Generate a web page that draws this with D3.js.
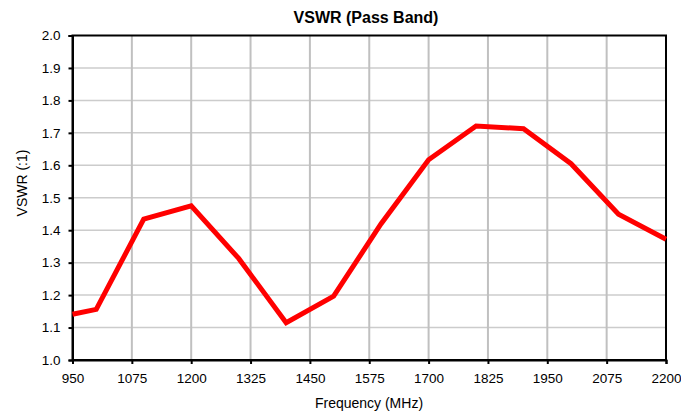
<!DOCTYPE html>
<html><head><meta charset="utf-8">
<script src="https://cdn.jsdelivr.net/npm/d3@7"></script>
<style>body{margin:0;background:#fff;font-family:"Liberation Sans",Arial,sans-serif;}</style>
</head><body><svg id="c" width="681" height="415"></svg>
<script>
const freqs = [950,1000,1100,1200,1300,1400,1500,1600,1700,1800,1900,2000,2100,2200];
const vswr = [1.141,1.156,1.434,1.475,1.313,1.115,1.197,1.42,1.617,1.721,1.713,1.605,1.449,1.372];
const xTicks = [950,1075,1200,1325,1450,1575,1700,1825,1950,2075,2200];
const yTicks = [1.0,1.1,1.2,1.3,1.4,1.5,1.6,1.7,1.8,1.9,2.0];

const svg = d3.select("#c");
const L=72.5, R=666, T=35.5, B=360;
const x = d3.scaleLinear().domain([950,2200]).range([L,R]);
const y = d3.scaleLinear().domain([1.0,2.0]).range([B,T]);

// grid
svg.append("g").selectAll("line").data(yTicks.slice(1,-1)).join("line")
  .attr("x1",L).attr("x2",R).attr("y1",d=>y(d)).attr("y2",d=>y(d))
  .attr("stroke","#cccccc").attr("stroke-width",1.5);
svg.append("g").selectAll("line").data(xTicks.slice(1,-1)).join("line")
  .attr("y1",T).attr("y2",B).attr("x1",d=>x(d)).attr("x2",d=>x(d))
  .attr("stroke","#c0c0c0").attr("stroke-width",2);

// frame
svg.append("rect").attr("x",L).attr("y",T).attr("width",R-L).attr("height",B-T)
  .attr("fill","none").attr("stroke","#000").attr("stroke-width",2);

// axes
const xa = svg.append("g").attr("transform",`translate(0,${B})`)
  .call(d3.axisBottom(x).tickValues(xTicks).tickSize(4).tickPadding(9).tickFormat(d3.format("d")));
const ya = svg.append("g").attr("transform",`translate(${L},0)`)
  .call(d3.axisLeft(y).tickValues(yTicks).tickSize(4).tickPadding(8).tickFormat(d3.format(".1f")));
[xa,ya].forEach(a=>{
  a.select(".domain").attr("stroke","#000").attr("stroke-width",2);
  a.selectAll(".tick line").attr("stroke","#000").attr("stroke-width",2);
  a.selectAll("text").attr("font-family","Liberation Sans, Arial, sans-serif").attr("font-size",13.5).attr("fill","#000");
});

// line
svg.append("path").datum(freqs.map((f,i)=>[f,vswr[i]]))
  .attr("d",d3.line().x(d=>x(d[0])).y(d=>y(d[1])))
  .attr("fill","none").attr("stroke","#ff0000").attr("stroke-width",5).attr("stroke-linejoin","miter");

// texts
svg.append("text").attr("x",366).attr("y",23).attr("text-anchor","middle")
  .attr("font-size",16).attr("font-weight","bold").text("VSWR (Pass Band)");
svg.append("text").attr("x",369).attr("y",408).attr("text-anchor","middle")
  .attr("font-size",14).text("Frequency (MHz)");
svg.append("text").attr("transform",`translate(27,183) rotate(-90)`).attr("text-anchor","middle")
  .attr("font-size",14).text("VSWR (:1)");
</script></body></html>
